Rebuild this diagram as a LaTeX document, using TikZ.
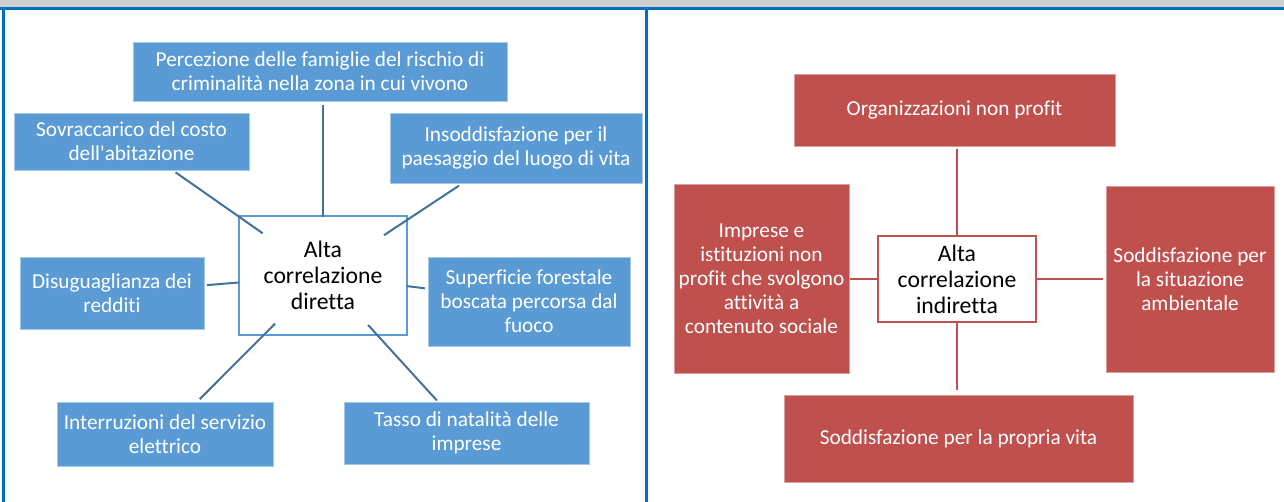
\documentclass[tikz,border=0pt]{standalone}
\usepackage{fontspec}
\setmainfont{Carlito}[Ligatures={NoCommon}]
\usetikzlibrary{calc}
\definecolor{bluefill}{HTML}{5B9BD5}
\definecolor{blueline}{HTML}{41719C}
\definecolor{redfill}{HTML}{C0504D}
\definecolor{frameblue}{HTML}{0070C0}
\definecolor{bandgray}{HTML}{D0CECE}
\tikzset{
  boxbase/.style={align=center, inner sep=0pt, outer sep=0pt, text=white,
    font=\fontsize{21.3}{24}\selectfont, line width=0.6pt},
  bbox/.style={boxbase, fill=bluefill, draw=bluefill!55!white},
  rbox/.style={boxbase, fill=redfill, draw=redfill!55!white},
  cbox/.style={align=center, inner sep=0pt, outer sep=0pt, fill=white, text=black,
    font=\fontsize{23.7}{26}\selectfont},
  bconn/.style={draw=blueline, line width=2pt},
  rconn/.style={draw=redfill, line width=2pt},
}
\begin{document}
\begin{tikzpicture}[x=1pt,y=-1pt]
\useasboundingbox (0,0) rectangle (1284,502);
% frame
\fill[bandgray] (0,0) rectangle (1284,7);
\draw[frameblue, line width=3pt] (0,8.5) -- (1284,8.5);
\draw[frameblue, line width=3pt] (3.5,8.5) -- (3.5,502);
\draw[frameblue, line width=3pt] (646.5,8.5) -- (646.5,502);

% ---------- left diagram ----------
\node[cbox, draw=bluefill, line width=2pt, minimum width=168pt, minimum height=119pt] (cl) at (323,275.5) {Alta\\correlazione\\diretta};
\node[bbox, minimum width=374pt, minimum height=59pt] (perc) at (320,71.5) {Percezione delle famiglie del rischio di\\criminalità nella zona in cui vivono};
\node[bbox, minimum width=235pt, minimum height=57pt] (sov) at (131.5,141.5) {Sovraccarico del costo\\dell\textquotesingle abitazione};
\node[bbox, minimum width=252pt, minimum height=70pt] (ins) at (516,148) {Insoddisfazione per il\\paesaggio del luogo di vita};
\node[bbox, minimum width=184pt, minimum height=72pt] (dis) at (112,293) {Disuguaglianza dei\\redditi};
\node[bbox, minimum width=202pt, minimum height=89pt] (sup) at (529,301.5) {Superficie forestale\\boscata percorsa dal\\fuoco};
\node[bbox, minimum width=216pt, minimum height=64pt] (int) at (165,434) {Interruzioni del servizio\\elettrico};
\node[bbox, minimum width=245pt, minimum height=62pt] (tas) at (466.5,433) {Tasso di natalità delle\\imprese};

\draw[bconn, shorten <=4pt] (perc.south -| cl.north) -- ($(cl.north)+(0,1)$);
\draw[bconn] ($(sov.center)!0.23!(cl.center)$) -- ($(sov.center)!0.685!(cl.center)$);
\draw[bconn] ($(ins.center)!0.295!(cl.center)$) -- ($(ins.center)!0.684!(cl.center)$);
\draw[bconn] ($(dis.center)!0.45!(cl.center)$) -- ($(dis.center)!0.60!(cl.center)$);
\draw[bconn] ($(sup.center)!0.505!(cl.center)$) -- ($(sup.center)!0.592!(cl.center)$);
\draw[bconn] ($(int.center)!0.22!(cl.center)$) -- ($(int.center)!0.696!(cl.center)$);
\draw[bconn] ($(tas.center)!0.206!(cl.center)$) -- ($(tas.center)!0.686!(cl.center)$);

% ---------- right diagram ----------
\node[cbox, draw=redfill, line width=2.5pt, minimum width=158pt, minimum height=86pt] (cr) at (957,279) {Alta\\correlazione\\indiretta};
\node[rbox, minimum width=321pt, minimum height=72pt] (org) at (954.5,110) {Organizzazioni non profit};
\node[rbox, minimum width=175pt, minimum height=189pt] (imp) at (761.5,278.5) {Imprese e\\istituzioni non\\profit che svolgono\\attività a\\contenuto sociale};
\node[rbox, minimum width=168pt, minimum height=186pt] (amb) at (1190,279) {Soddisfazione per\\la situazione\\ambientale};
\node[rbox, minimum width=349pt, minimum height=87pt] (vit) at (958.5,438.5) {Soddisfazione per la propria vita};

\draw[rconn, shorten <=3pt] (org.south -| cr.north) -- (cr.north);
\draw[rconn, shorten <=1pt] (imp.east |- cr.west) -- (cr.west);
\draw[rconn, shorten >=3pt] (cr.east) -- (amb.west |- cr.east);
\draw[rconn, shorten >=5pt] (cr.south) -- (cr.south |- vit.north);
\end{tikzpicture}
\end{document}
